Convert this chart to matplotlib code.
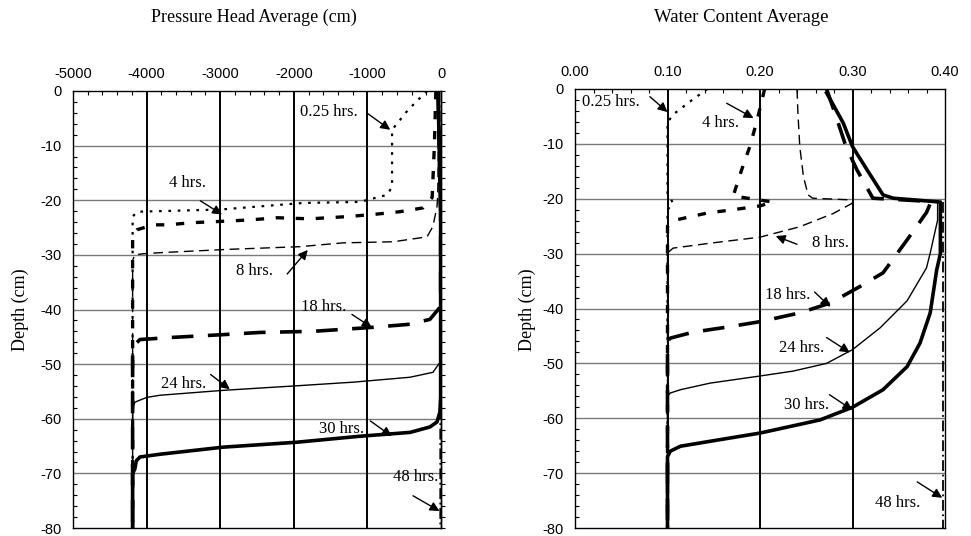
import matplotlib
matplotlib.use("Agg")
import matplotlib.pyplot as plt
from matplotlib.ticker import MultipleLocator

plt.rcParams['axes.unicode_minus'] = False

# ---------------- data: pressure head (cm) vs depth (cm) ----------------
ph_025_h = [-190, -450, -665, -665, -665, -730, -1100, -1875, -3000, -4130, -4190, -4190]
ph_025_d = [0, -3.5, -7.1, -8, -17.5, -19, -20.3, -20.5, -21.7, -22.1, -23, -80]

ph_4_h = [-70, -90, -120, -245, -560, -920, -1280, -1780, -2230, -2590, -3040, -3370, -3720, -3910, -4130, -4190, -4190]
ph_4_d = [0, -10, -19.5, -21.4, -22.1, -22.6, -23.0, -23.4, -23.2, -23.6, -23.9, -24.1, -24.5, -24.5, -25.4, -26.3, -80]

ph_8_h = [-25, -35, -45, -55, -110, -190, -650, -1330, -1920, -2910, -3820, -4050, -4160, -4190, -4190]
ph_8_d = [0, -10, -19.5, -21.2, -24.8, -26.7, -27.6, -27.8, -28.5, -29.0, -29.6, -29.8, -30.0, -31, -80]

ph_18_h = [-40, -25, -10, -5, -5, -15, -150, -420, -965, -1740, -2460, -2960, -3640, -4090, -4160, -4190, -4190]
ph_18_d = [0, -10, -20, -22, -37, -39.6, -41.8, -42.7, -43.3, -44.0, -44.2, -44.6, -45.1, -45.5, -46.4, -47.3, -80]

ph_24_h = [-40, -25, -10, -5, -5, -15, -110, -420, -1190, -2000, -2960, -3820, -4000, -4130, -4160, -4190, -4190]
ph_24_d = [0, -10, -20, -22, -47, -49.7, -51.5, -52.4, -53.3, -54.0, -54.8, -55.7, -56.1, -56.8, -57, -58, -80]

ph_30_h = [-40, -25, -10, -5, -5, -15, -55, -150, -420, -1100, -1960, -2960, -3820, -4090, -4140, -4160, -4190, -4190]
ph_30_d = [0, -10, -20, -22, -56, -58.8, -60.6, -61.5, -62.5, -63.2, -64.3, -65.2, -66.5, -67.0, -67.7, -69.2, -70, -80]

ph_48_h = [-20, -15, -10, -10]
ph_48_d = [0, -20, -22, -80]

# ---------------- data: water content vs depth (cm) ----------------
wc_025_t = [0.143, 0.125, 0.108, 0.100, 0.100, 0.106, 0.100, 0.100]
wc_025_d = [0, -2.2, -4.4, -6, -19, -20.8, -22, -80]

wc_4_t = [0.205, 0.197, 0.189, 0.180, 0.171, 0.214, 0.200, 0.171, 0.143, 0.108, 0.100, 0.100]
wc_4_d = [0, -5.6, -10.5, -14.8, -19.5, -20.6, -21.3, -22.0, -22.6, -23.9, -25, -80]

wc_8_t = [0.240, 0.241, 0.243, 0.247, 0.252, 0.257, 0.297, 0.300, 0.279, 0.243, 0.200, 0.146, 0.106, 0.100, 0.100]
wc_8_d = [0, -4.4, -10.5, -16.0, -19.3, -19.9, -20.2, -20.8, -22.7, -25.1, -27.0, -28.1, -29.0, -29.9, -80]

wc_18_t = [0.272, 0.281, 0.293, 0.305, 0.322, 0.385, 0.380, 0.359, 0.333, 0.308, 0.276, 0.243, 0.200, 0.164, 0.128, 0.103, 0.100, 0.100]
wc_18_d = [0, -4.4, -10.5, -14.8, -19.9, -20.5, -22.5, -27.5, -33.5, -36.0, -39.0, -40.8, -42.4, -43.4, -44.3, -45.4, -46, -80]

wc_24_t = [0.272, 0.290, 0.300, 0.316, 0.333, 0.344, 0.392, 0.392, 0.384, 0.380, 0.359, 0.330, 0.300, 0.272, 0.236, 0.200, 0.146, 0.114, 0.103, 0.100, 0.100]
wc_24_d = [-0.7, -6.2, -10.5, -14.8, -19.3, -19.9, -20.6, -23.9, -29.9, -32.6, -38.6, -43.5, -47.5, -50.0, -51.4, -52.3, -53.6, -54.8, -55.4, -56, -80]

wc_30_t = [0.272, 0.290, 0.300, 0.316, 0.333, 0.344, 0.395, 0.395, 0.391, 0.384, 0.373, 0.359, 0.333, 0.300, 0.265, 0.200, 0.146, 0.114, 0.103, 0.100, 0.100]
wc_30_d = [-0.7, -6.2, -10.5, -14.8, -19.3, -19.9, -20.6, -30, -33, -40.8, -46.3, -50.6, -54.8, -58.0, -60.3, -62.7, -64.2, -65.1, -66.0, -67, -80]

wc_48_t = [0.398, 0.398]
wc_48_d = [-20.6, -80]

ph_ticks = [-5000, -4000, -3000, -2000, -1000, 0]
ph_ticklabels = ["-5000", "-4000", "-3000", "-2000", "-1000", "0"]
wc_ticks = [0.0, 0.1, 0.2, 0.3, 0.4]
wc_ticklabels = ["0.00", "0.10", "0.20", "0.30", "0.40"]
depth_ticks = [0, -10, -20, -30, -40, -50, -60, -70, -80]
depth_ticklabels = ["0", "-10", "-20", "-30", "-40", "-50", "-60", "-70", "-80"]

# ---------------- styles ----------------
styles = {
    "0.25": dict(color="black", lw=1.6, ls=(0, (1.2, 3.0))),
    "4": dict(color="black", lw=2.4, ls=(0, (2.5, 3.5))),
    "8": dict(color="black", lw=1.0, ls=(0, (7, 4))),
    "18": dict(color="black", lw=2.6, ls=(0, (6, 4))),
    "24": dict(color="black", lw=1.0, ls="-"),
    "30": dict(color="black", lw=2.6, ls="-"),
    "48": dict(color="black", lw=1.3, ls=(0, (6, 2, 1, 2))),
}

SANS = "Liberation Sans"
SERIF = "Liberation Serif"
TICK_FS = 10.5
TEXT_FS = 12

fig = plt.figure(figsize=(9.71, 5.36), dpi=100)
axL = fig.add_axes([73 / 971, 8 / 536, 368 / 971, 437 / 536])
axR = fig.add_axes([575 / 971, 8 / 536, 370 / 971, 439 / 536])


def style_axes(ax, xticks, xlabels, xlim, xminor, right_ticks_out):
    ax.set_ylim(-80, 0)
    ax.set_xlim(*xlim)
    ax.xaxis.tick_top()
    ax.set_xticks(xticks)
    ax.set_xticklabels(xlabels, fontfamily=SANS, fontsize=TICK_FS)
    ax.set_yticks(depth_ticks)
    ax.set_yticklabels(depth_ticklabels, fontfamily=SANS, fontsize=TICK_FS)
    ax.tick_params(axis="x", which="major", length=0, pad=7)
    ax.tick_params(axis="y", which="major", length=0, pad=8)
    ax.xaxis.set_minor_locator(MultipleLocator(xminor))
    ax.yaxis.set_minor_locator(MultipleLocator(2))
    ax.tick_params(axis="x", which="minor", direction="in", length=3, width=0.8, top=True, bottom=False)
    ax.tick_params(axis="y", which="minor", direction="in", length=3, width=0.8, left=True, right=False)
    if right_ticks_out:
        sec = ax.secondary_yaxis("right")
        sec.set_yticks([])
        sec.yaxis.set_minor_locator(MultipleLocator(2))
        sec.tick_params(which="minor", direction="out", length=3, width=0.8)
        sec.spines["right"].set_linewidth(1.0)
    for s in ax.spines.values():
        s.set_linewidth(1.0)
        s.set_color("black")
    for y in depth_ticks[1:-1]:
        ax.axhline(y, color="#7a7a7a", lw=1.0, zorder=1)
    for x in xticks[1:-1]:
        ax.axvline(x, color="black", lw=1.4, zorder=1)


style_axes(axL, ph_ticks, ph_ticklabels, (-5000, 0), 200, True)
style_axes(axR, wc_ticks, wc_ticklabels, (0.0, 0.4), 0.02, False)

axL.plot(ph_025_h, ph_025_d, **styles["0.25"], zorder=3)
axL.plot(ph_4_h, ph_4_d, **styles["4"], zorder=3)
axL.plot(ph_8_h, ph_8_d, **styles["8"], zorder=3)
axL.plot(ph_18_h, ph_18_d, **styles["18"], zorder=3)
axL.plot(ph_24_h, ph_24_d, **styles["24"], zorder=3)
axL.plot(ph_30_h, ph_30_d, **styles["30"], zorder=3)
axL.plot(ph_48_h, ph_48_d, **styles["48"], zorder=3)

axR.plot(wc_025_t, wc_025_d, **styles["0.25"], zorder=3)
axR.plot(wc_4_t, wc_4_d, **styles["4"], zorder=3)
axR.plot(wc_8_t, wc_8_d, **styles["8"], zorder=3)
axR.plot(wc_18_t, wc_18_d, **styles["18"], zorder=3)
axR.plot(wc_24_t, wc_24_d, **styles["24"], zorder=3)
axR.plot(wc_30_t, wc_30_d, **styles["30"], zorder=3)
axR.plot(wc_48_t, wc_48_d, **styles["48"], zorder=3)

arrow = dict(arrowstyle="-|>", color="black", lw=1.0, mutation_scale=14, shrinkA=0, shrinkB=0)


def ann(ax, text, tip, start, textpos):
    ax.annotate("", xy=tip, xytext=start, arrowprops=arrow, zorder=5)
    ax.text(textpos[0], textpos[1], text, fontfamily=SERIF, fontsize=TEXT_FS,
            ha="center", va="center", zorder=6)


# left panel labels (tip, arrow start, text centre) in data coordinates
ann(axL, "0.25 hrs.", (-690, -7.1), (-1010, -4.0), (-1520, -3.8))
ann(axL, "4 hrs.", (-2975, -22.6), (-3270, -20.1), (-3440, -16.8))
ann(axL, "8 hrs.", (-1810, -29.1), (-2090, -33.5), (-2530, -33.0))
ann(axL, "18 hrs.", (-940, -43.3), (-1210, -40.9), (-1600, -39.6))
ann(axL, "24 hrs.", (-2870, -54.6), (-3130, -51.9), (-3500, -53.7))
ann(axL, "30 hrs.", (-670, -63.2), (-960, -60.4), (-1350, -61.9))
ann(axL, "48 hrs.", (-20, -76.9), (-380, -74.1), (-350, -70.7))

# right panel labels
ann(axR, "0.25 hrs.", (0.100, -4.2), (0.081, -1.4), (0.039, -2.3))
ann(axR, "4 hrs.", (0.193, -5.3), (0.164, -2.6), (0.157, -6.2))
ann(axR, "8 hrs.", (0.217, -26.8), (0.240, -28.3), (0.276, -28.0))
ann(axR, "18 hrs.", (0.276, -39.7), (0.259, -37.0), (0.230, -37.6))
ann(axR, "24 hrs.", (0.297, -48.0), (0.272, -45.3), (0.245, -47.2))
ann(axR, "30 hrs.", (0.300, -58.5), (0.275, -55.7), (0.250, -57.6))
ann(axR, "48 hrs.", (0.397, -74.5), (0.370, -71.6), (0.349, -75.4))

fig.text(254 / 971, 1 - 17 / 536, "Pressure Head Average (cm)", fontfamily=SERIF,
         fontsize=13, ha="center", va="center")
fig.text(741 / 971, 1 - 17 / 536, "Water Content Average", fontfamily=SERIF,
         fontsize=13.5, ha="center", va="center")
fig.text(20 / 971, 1 - 310 / 536, "Depth (cm)", fontfamily=SERIF, fontsize=13,
         rotation=90, ha="center", va="center")
fig.text(527 / 971, 1 - 310 / 536, "Depth (cm)", fontfamily=SERIF, fontsize=13,
         rotation=90, ha="center", va="center")

fig.savefig("out.png", dpi=100, facecolor="white")
